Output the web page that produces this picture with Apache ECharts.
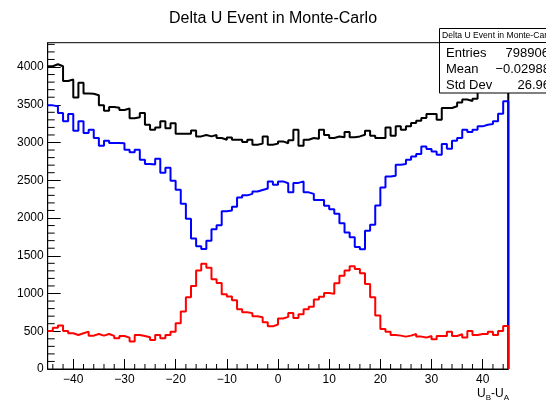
<!DOCTYPE html>
<html>
<head>
<meta charset="utf-8">
<script src="https://cdn.jsdelivr.net/npm/echarts@6/dist/echarts.min.js"></script>
<style>
html,body{margin:0;padding:0;background:#fff;}
#chart{width:546px;height:403px;}
</style>
</head>
<body>
<div id="chart"></div>
<script>
// ---- data ----
var xMin = -45, xMax = 45, binWidth = 1;
var yMax = 4322;
var xMajorTicks = [-40, -30, -20, -10, 0, 10, 20, 30, 40];
var xMinorTicks = [-44,-42,-38,-36,-34,-32,-28,-26,-24,-22,-18,-16,-14,-12,-8,-6,-4,-2,2,4,6,8,12,14,16,18,22,24,26,28,32,34,36,38,42,44];
var yMajorTicks = [0, 500, 1000, 1500, 2000, 2500, 3000, 3500, 4000];
var yMinorTicks = [100,200,300,400,600,700,800,900,1100,1200,1300,1400,1600,1700,1800,1900,2100,2200,2300,2400,2600,2700,2800,2900,3100,3200,3300,3400,3600,3700,3800,3900,4100,4200,4300];
var titleText = 'Delta U Event in Monte-Carlo';
var statsTitle = 'Delta U Event in Monte-Carlo';
var statsNames = ['Entries', 'Mean', 'Std Dev'];
var statsValues = ['798906', '\u22120.02988', '26.96'];

var blackCounts = [
  4010,4036,4010,3815,3835,3595,3790,3650,3645,3625,
  3492,3422,3470,3460,3430,3450,3320,3335,3391,3236,
  3170,3200,3280,3190,3255,3117,3115,3115,3160,3081,
  3100,3081,3100,3060,3037,3065,3037,3037,3006,3037,
  2971,2985,3081,2971,2985,3015,2990,3030,3170,2957,
  3037,3060,3050,3170,3100,3060,3080,3070,3140,3070,
  3081,3103,3156,3090,3060,3060,3200,3090,3214,3170,
  3214,3258,3289,3324,3377,3377,3302,3457,3457,3480,
  3530,3570,3550,3580,3720,3780,3850,3900,3950,4000
];
var blueCounts = [
  3492,3480,3391,3280,3378,3156,3280,3126,3170,3060,
  2957,3024,2993,2993,2990,2904,2870,2904,2772,2715,
  2710,2785,2600,2665,2495,2374,2190,1990,1730,1625,
  1590,1700,1850,1905,2090,2100,2150,2270,2300,2320,
  2350,2370,2390,2485,2440,2485,2460,2340,2465,2485,
  2340,2320,2240,2240,2162,2117,2056,1932,1808,1746,
  1615,1585,1830,1910,2166,2404,2550,2560,2705,2714,
  2771,2816,2847,2948,2913,2882,2838,2979,2917,3023,
  3059,3170,3139,3170,3214,3236,3245,3280,3380,3546
];
var redCounts = [
  504,548,575,504,473,451,473,495,442,464,
  442,464,438,407,438,416,363,451,438,420,
  385,451,407,451,495,606,760,951,1100,1304,
  1395,1340,1190,1140,990,960,910,790,752,740,
  700,685,620,565,590,668,690,742,675,725,
  790,826,920,958,1008,995,1136,1236,1304,1360,
  1326,1269,1127,951,707,530,495,451,442,429,
  442,464,429,416,438,394,438,438,495,438,
  460,416,504,451,464,464,495,451,504,570
];

function histPoints(counts){
  var pts = counts.map(function(v,i){ return [xMin + i*binWidth, v]; });
  pts.push([xMax, counts[counts.length-1]]);
  pts.push([xMax, 0]);
  return pts;
}

var FONT = '"Liberation Sans", Arial, Helvetica, sans-serif';

function histSeries(name, counts, color){
  return {
    name: name, type: 'line', step: 'end', data: histPoints(counts),
    symbol: 'none', clip: false, animation: false, z: 3,
    lineStyle: {color: color, width: 2}
  };
}

// minor tick marks drawn through the axis scales
function minorTickSeries(values, dir, len){
  return {
    type: 'custom', silent: true, clip: false, z: 4, animation: false,
    data: values.map(function(v){ return dir === 'x' ? [v, 0] : [xMin, v]; }),
    renderItem: function(params, api){
      var p = api.coord([api.value(0), api.value(1)]);
      var x2 = dir === 'x' ? p[0] : p[0] + len;
      var y2 = dir === 'x' ? p[1] - len : p[1];
      return {type: 'line', shape: {x1: p[0], y1: p[1], x2: x2, y2: y2},
              style: {stroke: '#000', lineWidth: 1}};
    }
  };
}

var chart = echarts.init(document.getElementById('chart'), null, {renderer: 'canvas'});
var option = {
  animation: false,
  backgroundColor: '#fff',
  title: {
    text: titleText, left: 'center', top: 6,
    textStyle: {fontFamily: FONT, fontSize: 16, fontWeight: 'normal', color: '#000'}
  },
  grid: {left: 47.7, right: 37.7, top: 42.7, bottom: 34, show: true, borderColor: '#000', borderWidth: 1, backgroundColor: 'transparent'},
  xAxis: {
    type: 'value', min: xMin, max: xMax,
    axisLine: {show: true, onZero: false, lineStyle: {color: '#000', width: 1}},
    axisTick: {show: true, inside: true, length: 10, customValues: xMajorTicks, lineStyle: {color: '#000'}},
    minorTick: {show: false},
    splitLine: {show: false},
    axisLabel: {
      fontFamily: FONT, fontSize: 12, color: '#000', margin: 5,
      customValues: xMajorTicks,
      formatter: function(v){ return String(v).replace('-', '\u2212'); }
    }
  },
  yAxis: {
    type: 'value', min: 0, max: yMax,
    axisLine: {show: true, onZero: false, lineStyle: {color: '#000', width: 1}},
    axisTick: {show: true, inside: true, length: 13, customValues: yMajorTicks, lineStyle: {color: '#000'}},
    minorTick: {show: false},
    splitLine: {show: false},
    axisLabel: {
      fontFamily: FONT, fontSize: 12, color: '#000', margin: 4,
      customValues: yMajorTicks,
      formatter: function(v){ return String(v); }
    }
  },
  series: [
    histSeries('black', blackCounts, '#000000'),
    histSeries('blue', blueCounts, '#0000ff'),
    histSeries('red', redCounts, '#ff0000'),
    minorTickSeries(xMinorTicks, 'x', 5),
    minorTickSeries(yMinorTicks, 'y', 7)
  ],
  graphic: [
    {type: 'rect', z: 100, shape: {x: 439.5, y: 28.5, width: 130, height: 64.5},
     style: {fill: '#fff', stroke: '#000', lineWidth: 1}},
    {type: 'line', z: 101, shape: {x1: 439.5, y1: 42.5, x2: 560, y2: 42.5},
     style: {stroke: '#000', lineWidth: 1}},
    {type: 'text', z: 102, style: {text: statsTitle, x: 442, y: 36, textVerticalAlign: 'middle', font: '8.6px ' + FONT, fill: '#000'}},
    {type: 'text', z: 102, style: {text: statsNames[0], x: 446, y: 53, textVerticalAlign: 'middle', font: '13px ' + FONT, fill: '#000'}},
    {type: 'text', z: 102, style: {text: statsNames[1], x: 446, y: 69, textVerticalAlign: 'middle', font: '13px ' + FONT, fill: '#000'}},
    {type: 'text', z: 102, style: {text: statsNames[2], x: 446, y: 85, textVerticalAlign: 'middle', font: '13px ' + FONT, fill: '#000'}},
    {type: 'text', z: 102, style: {text: statsValues[0], x: 549, y: 53, textAlign: 'right', textVerticalAlign: 'middle', font: '13px ' + FONT, fill: '#000'}},
    {type: 'text', z: 102, style: {text: statsValues[1], x: 550, y: 69, textAlign: 'right', textVerticalAlign: 'middle', font: '13px ' + FONT, fill: '#000'}},
    {type: 'text', z: 102, style: {text: statsValues[2], x: 550, y: 85, textAlign: 'right', textVerticalAlign: 'middle', font: '13px ' + FONT, fill: '#000'}},
    {type: 'text', z: 102, style: {
      text: '{u|U}{s|B}{u|-U}{s|A}', x: 509, y: 386, textAlign: 'right', textVerticalAlign: 'top',
      rich: {u: {fontFamily: FONT, fontSize: 12, fill: '#000'}, s: {fontFamily: FONT, fontSize: 8, fill: '#000', padding: [8, 0, 0, 0]}}
    }}
  ]
};
chart.setOption(option);
</script>
</body>
</html>
